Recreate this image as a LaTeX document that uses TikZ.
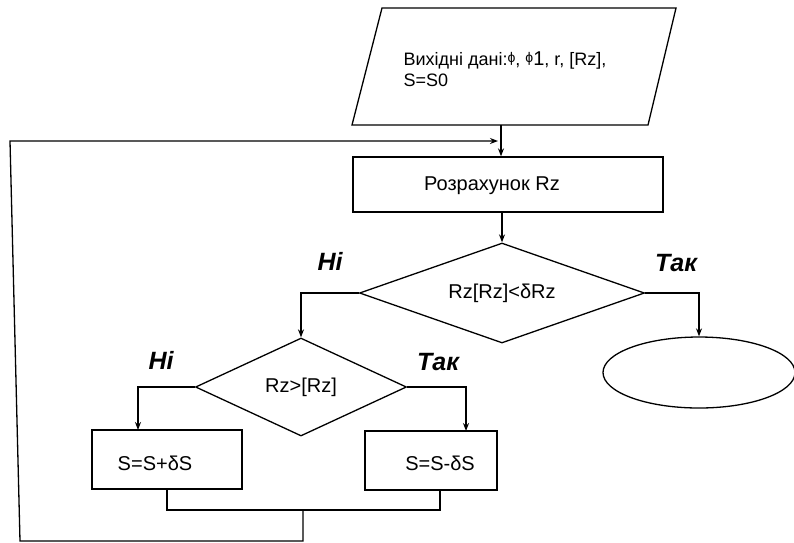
\documentclass[tikz,border=0pt]{standalone}
\usepackage{fontspec}
\setmainfont{Liberation Sans}
\usepackage{tikz}
\usetikzlibrary{shapes.geometric,arrows.meta,calc}

\begin{document}
\begin{tikzpicture}[x=1pt, y=-1pt, line width=1.3pt,
        arr/.style={-{Stealth[length=8pt,width=6pt]}},
        block/.style={draw, rectangle, inner sep=0pt},
        cond/.style={draw, diamond, aspect=3, inner sep=0pt, font=\fontsize{20}{23}\selectfont},
        txt/.style={inner sep=0pt, font=\fontsize{20}{23}\selectfont},
        answer/.style={inner sep=0pt, font=\fontsize{25}{28}\selectfont\bfseries\itshape}]
            \useasboundingbox (0,0) rectangle (794,542);

            % input data
            \draw (352,125) -- (382,8) -- (676,8) -- (648,125) -- cycle;
            \node[txt, font=\fontsize{18}{21}\selectfont, align=left, anchor=north west] (input) at (403,51)
                {Вихідні дані:\raisebox{3pt}{\fontsize{14}{14}\selectfont ϕ}, \raisebox{3pt}{\fontsize{14}{14}\selectfont ϕ}{\fontsize{20}{20}\selectfont 1}, r, [Rz],\\S=S0};
            \coordinate (datain) at (501,125);
            \coordinate (join) at (501,141);

            \node[block, minimum width=310pt, minimum height=55pt] (calc) at (508,184.5) {};
            \node[txt] (calctext) at (492,186) {Розрахунок Rz};

            \node[cond, minimum width=285pt, minimum height=100pt] (dec1) at (502,293) {Rz[Rz]<δRz};
            \node[cond, minimum width=211pt, minimum height=98pt] (dec2) at (301,387) {Rz>[Rz]};
            \node[draw, ellipse, inner sep=0pt, minimum width=192pt, minimum height=71pt] (stop) at (699,372.5) {};

            \node[block, minimum width=150pt, minimum height=59pt] (plus) at (167,459.5) {};
            \node[txt] (plustext) at (155,463) {S=S+δS};
            \node[block, minimum width=132pt, minimum height=59pt] (minus) at (431,460.5) {};
            \node[txt] (minustext) at (440,463) {S=S-δS};

            \node[answer] (no1) at (330,261) {Ні};
            \node[answer] (yes1) at (676,263) {Так};
            \node[answer] (no2) at (161,360) {Ні};
            \node[answer] (yes2) at (438,362) {Так};

            \coordinate (toplus) at (138,430);
            \coordinate (tominus) at (466,431);
            \coordinate (fromminus) at (440,490);
            \coordinate (merge) at (303,510);

            \draw[arr] (datain) -- (datain |- calc.north);
            \draw[arr] (dec1.north |- calc.south) -- (dec1.north);
            \draw[arr] (dec1.west) -| (dec2.north);
            \draw[arr] (dec1.east) -| (stop.north);
            \draw[arr] (dec2.west) -| (toplus);
            \draw[arr] (dec2.east) -| (tominus);
            \draw (plus.south) |- (fromminus |- merge) -- (fromminus);
            \draw[arr, shorten >=3pt] (merge) -- (303,541) -- (20,541) -- (10,141) -- (join);
        \end{tikzpicture}
\end{document}
